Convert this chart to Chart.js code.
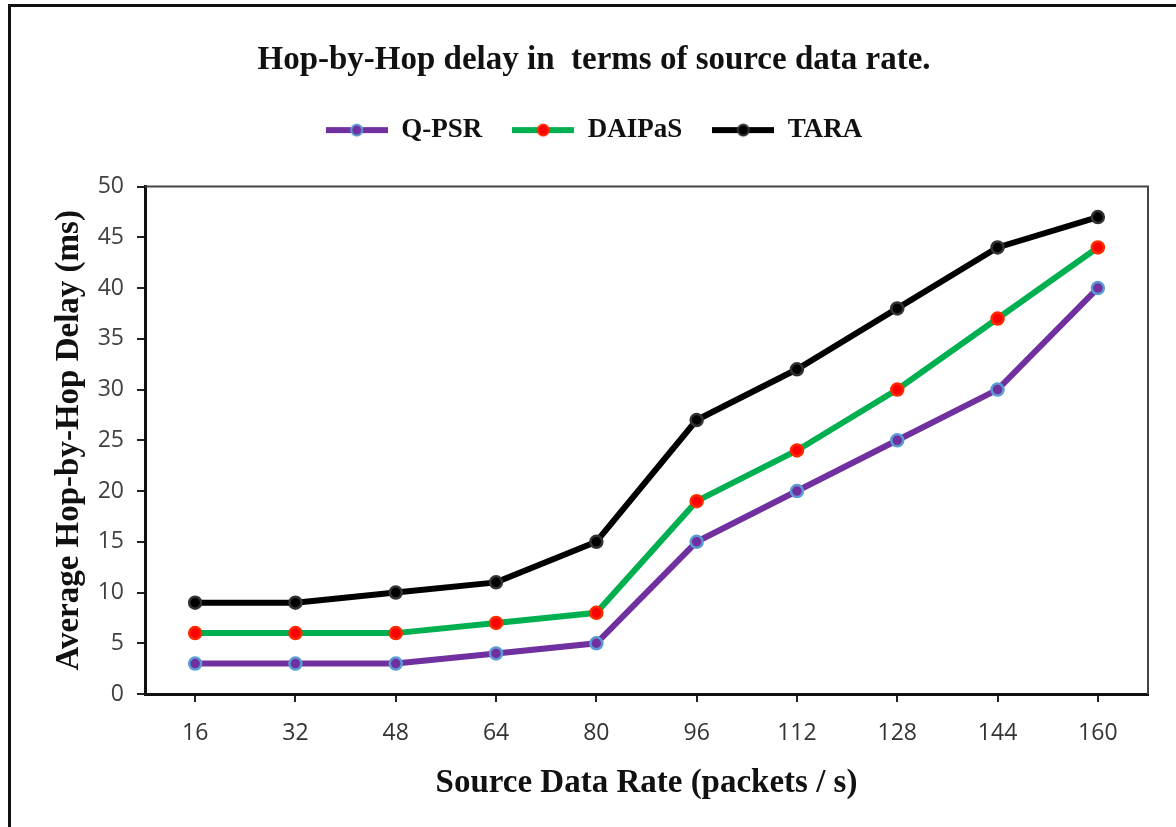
<!DOCTYPE html>
<html>
<head>
<meta charset="utf-8">
<script src="https://cdn.jsdelivr.net/npm/chart.js@4/dist/chart.umd.min.js"></script>
<style>
  body { margin: 0; background: #fff; }
  #wrap { position: relative; width: 1176px; height: 827px; }
  #marco { position: absolute; left: 8px; top: 4px; width: 1200px; height: 900px;
           border-left: 3px solid #111; border-top: 3px solid #111; pointer-events: none; }
</style>
</head>
<body>
<div id="wrap">
  <canvas id="grafico" width="1176" height="827"></canvas>
  <div id="marco"></div>
</div>
<script>
const categorias = ['16', '32', '48', '64', '80', '96', '112', '128', '144', '160'];
const qpsr   = [3, 3, 3, 4, 5, 15, 20, 25, 30, 40];
const daipas = [6, 6, 6, 7, 8, 19, 24, 30, 37, 44];
const tara   = [9, 9, 10, 11, 15, 27, 32, 38, 44, 47];
const nombres = ['Q-PSR', 'DAIPaS', 'TARA'];

const serif = '"Liberation Serif", "Times New Roman", serif';

// simbolo de leyenda: linea gruesa con el marcador en medio
function simbolo(linea, relleno, borde) {
  const c = document.createElement('canvas');
  c.width = 62; c.height = 18;
  const g = c.getContext('2d');
  g.strokeStyle = linea; g.lineWidth = 6;
  g.beginPath(); g.moveTo(0, 9); g.lineTo(62, 9); g.stroke();
  g.fillStyle = relleno; g.strokeStyle = borde; g.lineWidth = 2;
  g.beginPath(); g.arc(31, 9, 5.5, 0, Math.PI * 2); g.fill(); g.stroke();
  return c;
}

const estilos = [
  { linea: '#7030A0', relleno: '#7030A0', borde: '#5B9BD5' },
  { linea: '#00B050', relleno: '#FF0000', borde: '#FF2A00' },
  { linea: '#000000', relleno: '#000000', borde: '#333333' }
];

const marcoArea = {
  id: 'marcoArea',
  afterDraw(chart) {
    const a = chart.chartArea, c = chart.ctx;
    c.save();
    c.strokeStyle = '#444'; c.lineWidth = 2;
    c.beginPath();
    c.moveTo(a.left, a.top); c.lineTo(a.right, a.top); c.lineTo(a.right, a.bottom);
    c.stroke();
    c.restore();
  }
};

const series = [qpsr, daipas, tara];
const ctx = document.getElementById('grafico').getContext('2d');
const grafico = new Chart(ctx, {
  type: 'line',
  data: {
    labels: categorias,
    datasets: series.map((datos, i) => ({
      label: nombres[i],
      data: datos,
      borderColor: estilos[i].linea,
      backgroundColor: estilos[i].relleno,
      pointBackgroundColor: estilos[i].relleno,
      pointBorderColor: estilos[i].borde,
      pointBorderWidth: 2.5,
      pointRadius: 6,
      borderWidth: 6,
      tension: 0
    }))
  },
  plugins: [marcoArea],
  options: {
    responsive: false,
    animation: false,
    layout: { padding: { left: 40, right: 28, top: 10, bottom: 0 } },
    plugins: {
      tooltip: { enabled: false },
      title: {
        display: true,
        text: 'Hop-by-Hop delay in  terms of source data rate.',
        color: '#111',
        font: { family: serif, size: 33, weight: 'bold' },
        padding: { top: 31, bottom: 6 }
      },
      // espacio vacio entre leyenda y area del grafico
      subtitle: {
        display: true,
        text: ' ',
        weight: 500,
        font: { size: 10 },
        padding: { top: 0, bottom: 21 }
      },
      legend: {
        labels: {
          usePointStyle: true,
          pointStyleWidth: 62,
          padding: 30,
          color: '#111',
          font: { family: serif, size: 27, weight: 'bold' },
          generateLabels(chart) {
            const items = Chart.defaults.plugins.legend.labels.generateLabels(chart);
            items.forEach((it, i) => {
              it.pointStyle = simbolo(estilos[i].linea, estilos[i].relleno, estilos[i].borde);
            });
            return items;
          }
        }
      }
    },
    scales: {
      x: {
        offset: true,
        grid: { display: true, drawOnChartArea: false, tickLength: 8, color: '#222', lineWidth: 2 },
        border: { color: '#111', width: 3 },
        ticks: { color: '#333', padding: 18, font: { family: '"Open Sans", sans-serif', size: 23 } },
        title: {
          display: true,
          text: 'Source Data Rate (packets / s)',
          color: '#111',
          font: { family: serif, size: 33, weight: 'bold' },
          padding: { top: 10, bottom: 24 }
        },
        afterFit(s) { s.height = 133; }
      },
      y: {
        min: 0, max: 50,
        ticks: { stepSize: 5, color: '#404040', padding: 13, font: { family: '"Open Sans", sans-serif', size: 23 } },
        grid: { display: true, drawOnChartArea: false, tickLength: 8, color: '#222', lineWidth: 2 },
        border: { color: '#111', width: 3 },
        title: {
          display: true,
          text: 'Average Hop-by-Hop Delay (ms)',
          color: '#111',
          font: { family: serif, size: 33, weight: 'bold' },
          padding: { top: 10, bottom: 4 }
        },
        afterFit(s) { s.width = 105; }
      }
    }
  }
});
</script>
</body>
</html>
